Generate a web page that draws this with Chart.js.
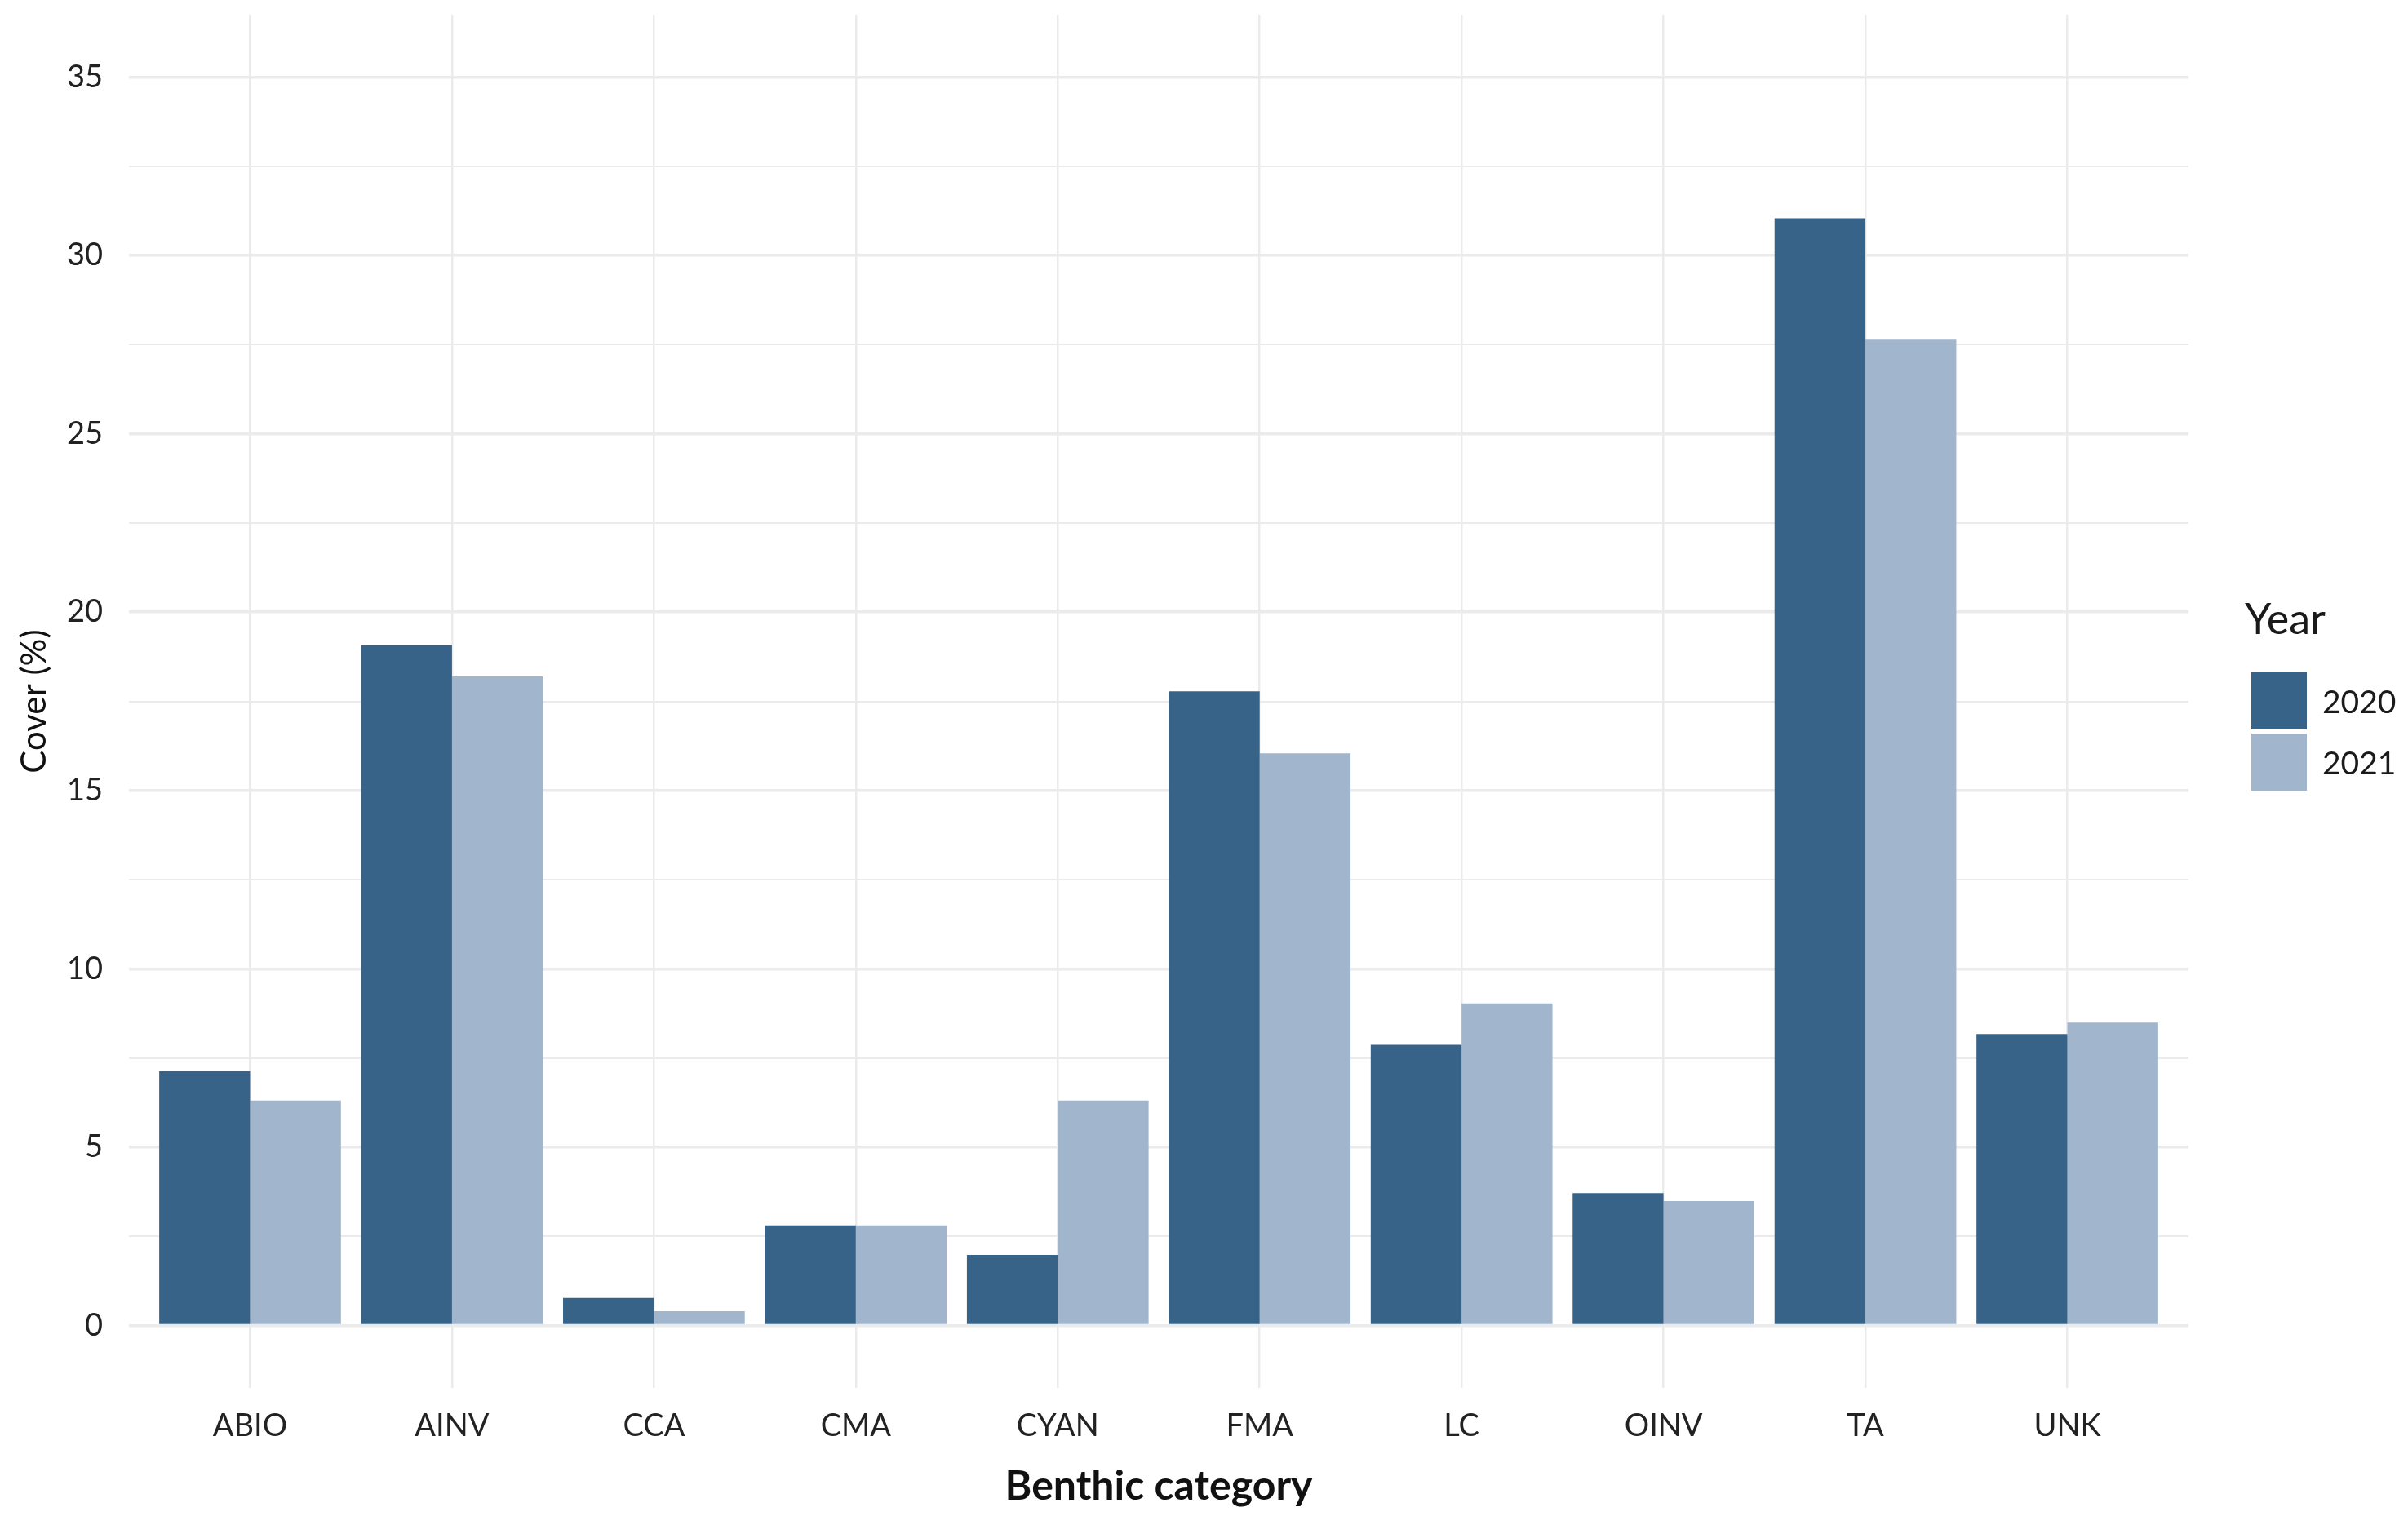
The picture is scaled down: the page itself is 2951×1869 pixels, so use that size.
<!DOCTYPE html>
<html>
<head>
<meta charset="utf-8">
<script src="https://cdn.jsdelivr.net/npm/chart.js@4.4.0/dist/chart.umd.min.js"></script>
<style>
  html, body { margin: 0; padding: 0; background: #fff; }
  #wrap { position: relative; width: 2951px; height: 1869px; }
  #legend { position: absolute; left: 2751px; top: 727px; font-family: Lato, sans-serif; color: #1a1a1a; }
  #legend .title { font-size: 52px; line-height: 60px; margin-bottom: 34px; }
  #legend .item { display: flex; align-items: center; height: 75px; margin-left: 8px; }
  #legend .key { width: 68px; height: 70px; margin-right: 19px; }
  #legend .lab { font-size: 39px; }
</style>
</head>
<body>
<div id="wrap">
  <canvas id="myChart" width="2951" height="1869"></canvas>
  <div id="legend"></div>
</div>
<script>
const categorias = ['ABIO', 'AINV', 'CCA', 'CMA', 'CYAN', 'FMA', 'LC', 'OINV', 'TA', 'UNK'];
const anos = ['2020', '2021'];
const cover2020 = [7.13, 19.07, 0.77, 2.81, 1.98, 17.78, 7.87, 3.71, 31.04, 8.17];
const cover2021 = [6.31, 18.2, 0.4, 2.81, 6.31, 16.04, 9.03, 3.49, 27.64, 8.49];
const yTicks = [0, 2.5, 5, 7.5, 10, 12.5, 15, 17.5, 20, 22.5, 25, 27.5, 30, 32.5, 35];
const cores = ['rgb(55, 99, 137)', 'rgb(161, 181, 204)'];

let ctx = document.getElementById('myChart');

function pontos(valores) {
    return valores.map(function (v, i) { return { x: i, y: v }; });
}

// legenda feita em html
let legend = document.getElementById('legend');
let html = '<div class="title">Year</div>';
anos.forEach(function (a, i) {
    html += '<div class="item"><div class="key" style="background:' + cores[i] + '"></div><div class="lab">' + a + '</div></div>';
});
legend.innerHTML = html;

let myChart = new Chart(ctx, {
    type: 'bar',
    data: {
        datasets: [{
            label: anos[0],
            data: pontos(cover2020),
            backgroundColor: cores[0],
            borderWidth: 0
        }, {
            label: anos[1],
            data: pontos(cover2021),
            backgroundColor: cores[1],
            borderWidth: 0
        }]
    },
    options: {
        responsive: false,
        animation: false,
        devicePixelRatio: 1,
        barPercentage: 1,
        categoryPercentage: 0.9,
        layout: { padding: { top: 18, right: 269, left: 0, bottom: 0 } },
        plugins: {
            legend: { display: false },
            tooltip: { enabled: false }
        },
        scales: {
            x: {
                type: 'linear',
                min: -0.6,
                max: 9.6,
                offset: false,
                afterBuildTicks: function (s) {
                    s.ticks = categorias.map(function (c, i) { return { value: i }; });
                },
                afterFit: function (s) {
                    s.height = 168;
                    s.paddingLeft = 0;
                    s.paddingRight = 0;
                },
                grid: { offset: false, color: '#ebebeb', lineWidth: 2.5, drawTicks: false },
                border: { display: false },
                ticks: {
                    autoSkip: false,
                    maxRotation: 0,
                    padding: 24,
                    color: '#222',
                    font: { family: 'Lato', size: 38, lineHeight: 1.2 },
                    callback: function (v) { return categorias[v]; }
                },
                title: {
                    display: true,
                    text: 'Benthic category',
                    color: '#111',
                    font: { family: 'Lato', size: 50, weight: 'bold', lineHeight: 1.2 },
                    padding: { top: 0, bottom: 17 }
                }
            },
            y: {
                min: -1.75,
                max: 36.75,
                afterBuildTicks: function (s) {
                    s.ticks = yTicks.map(function (v) { return { value: v }; });
                },
                afterFit: function (s) {
                    s.width = 158;
                    s.paddingTop = 0;
                    s.paddingBottom = 0;
                },
                grid: {
                    color: '#ebebeb',
                    drawTicks: false,
                    lineWidth: function (c) {
                        return (c.tick && c.tick.value % 5 === 0) ? 3.5 : 2;
                    }
                },
                border: { display: false },
                ticks: {
                    padding: 32,
                    color: '#222',
                    font: { family: 'Lato', size: 38, lineHeight: 1.2 },
                    callback: function (v) { return v % 5 === 0 ? String(v) : ''; }
                },
                title: {
                    display: true,
                    text: 'Cover (%)',
                    color: '#111',
                    font: { family: 'Lato', size: 42, lineHeight: 1.2 },
                    padding: { top: 17, bottom: 0 }
                }
            }
        }
    }
});
</script>
</body>
</html>
